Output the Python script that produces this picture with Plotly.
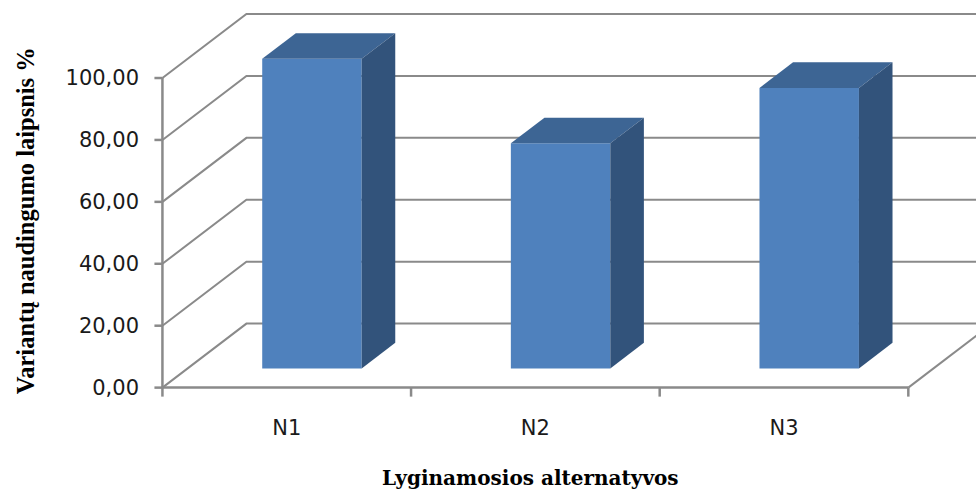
import plotly.graph_objects as go

# Data
categories = ["N1", "N2", "N3"]
values = [100.0, 72.7, 90.6]
y_ticks = [0, 20, 40, 60, 80, 100]
y_tick_labels = ["0,00", "20,00", "40,00", "60,00", "80,00", "100,00"]

# Oblique 3D projection parameters (category units / value units)
SX = 0.3378      # horizontal shift of full depth
SY = 20.68       # vertical shift of full depth
D0, D1 = 0.30, 0.70   # bar depth (front / back) as fraction of floor depth
GAP = 0.30       # gap on each side of a bar within its category
BAR_W = 0.40

FRONT = "#4F81BD"
TOP = "#3D6594"
SIDE = "#32537B"
GRID = "#8A8A8A"

# pixel scale of the plotting area
KX = 248.67
KY = 3.095
X_MIN, Y_MIN = -0.05, -4.0
W, H = 976, 495
origin_px_x, origin_px_y = 162.3, 387.5
left_m = origin_px_x + X_MIN * KX
bottom_px = origin_px_y - Y_MIN * KY
x_max = (W - origin_px_x) / KX
y_max = origin_px_y / KY

fig = go.Figure()


def seg(xs, ys, width=2, color=GRID):
    fig.add_trace(go.Scatter(x=xs, y=ys, mode="lines",
                             line=dict(color=color, width=width),
                             hoverinfo="skip", showlegend=False))


def poly(xs, ys, color):
    fig.add_trace(go.Scatter(x=xs + [xs[0]], y=ys + [ys[0]], mode="lines",
                             fill="toself", fillcolor=color,
                             line=dict(width=0, color=color),
                             hoverinfo="skip", showlegend=False))


ncat = len(categories)

# back wall gridlines and side wall diagonals
for t in y_ticks:
    seg([0, SX, x_max + 1], [t, t + SY, t + SY])

# floor edges
seg([ncat, ncat + SX], [0, SY])
seg([0, ncat], [0, 0], width=2.5)
# vertical value axis
seg([0, 0], [0, y_ticks[-1]], width=2.5)

# tick marks
for t in y_ticks:
    seg([-8 / KX, 0], [t, t], width=2.5)
for i in range(ncat + 1):
    seg([i, i], [0, -9 / KY], width=2.5)

# bars
dx = (D1 - D0) * SX
dy = (D1 - D0) * SY
for i, v in enumerate(values):
    x0 = i + GAP + D0 * SX
    x1 = x0 + BAR_W
    y0 = D0 * SY
    y1 = v + D0 * SY
    poly([x0, x1, x1, x0], [y0, y0, y1, y1], FRONT)
    poly([x0, x1, x1 + dx, x0 + dx], [y1, y1, y1 + dy, y1 + dy], TOP)
    poly([x1, x1 + dx, x1 + dx, x1], [y0, y0 + dy, y1 + dy, y1], SIDE)

tick_font = dict(family="DejaVu Sans", size=21, color="#1a1a1a")

fig.update_layout(
    width=W, height=H,
    margin=dict(l=left_m, r=0, t=0, b=H - bottom_px, pad=0),
    plot_bgcolor="white", paper_bgcolor="white",
    xaxis=dict(range=[X_MIN, x_max], showgrid=False, zeroline=False,
               showline=False, ticks="",
               tickvals=[i + 0.5 for i in range(ncat)], ticktext=categories,
               tickfont=tick_font, ticklabelstandoff=13),
    yaxis=dict(range=[Y_MIN, y_max], showgrid=False, zeroline=False,
               showline=False, ticks="",
               tickvals=y_ticks, ticktext=y_tick_labels,
               tickfont=tick_font, ticklabelstandoff=10),
    annotations=[
        dict(text="<b>Lyginamosios alternatyvos</b>", xref="paper", yref="paper",
             x=(530 - left_m) / (W - left_m), y=(bottom_px - 478) / bottom_px,
             xanchor="center", yanchor="middle", showarrow=False,
             font=dict(family="DejaVu Serif", size=20, color="black")),
        dict(text="<b>Variantų naudingumo laipsnis %</b>", xref="paper", yref="paper",
             x=(25 - left_m) / (W - left_m), y=(bottom_px - 221) / bottom_px,
             xanchor="center", yanchor="middle", textangle=-90, showarrow=False,
             font=dict(family="Liberation Serif", size=24.5, color="black")),
    ],
)

fig.write_html("out.html")
